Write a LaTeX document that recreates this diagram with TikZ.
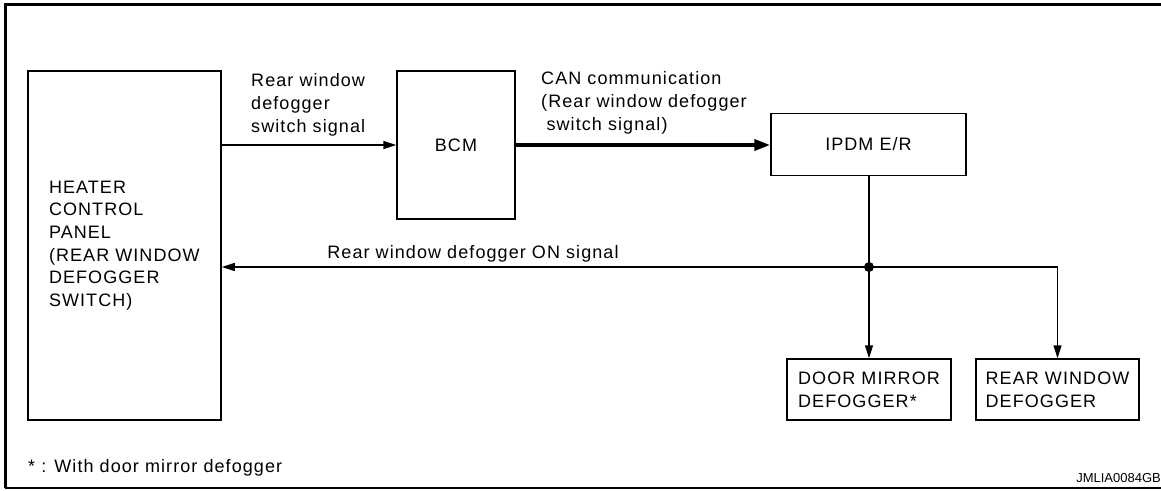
\documentclass[tikz,border=0pt]{standalone}
\usepackage{fontspec}
\setmainfont{Liberation Sans}[LetterSpace=6]
\newfontfamily\plainfont{Liberation Sans}
\usetikzlibrary{arrows.meta,calc}
\begin{document}
\begin{tikzpicture}[x=1pt,y=-1pt,
  font=\fontsize{18}{22.7}\selectfont,
  box/.style={draw=black,line width=1.5pt,inner sep=0pt,align=center},
  lbox/.style={draw=black,line width=1.5pt,inner sep=0pt,align=left},
  lbl/.style={inner sep=0pt,align=left},
  conn/.style={line width=1.5pt},
  arr/.style={line width=1.5pt,-{Triangle[length=13pt,width=8pt]}},
  thickarr/.style={line width=3.8pt,-{Triangle[length=16pt,width=11pt]}},
  frame/.style={line width=3pt}]
\useasboundingbox (0,0) rectangle (1161,490);
% outer frame (no right edge)
\draw[frame] (1161,4) -- (5.5,4) -- (5.5,488);
\draw[line width=2pt] (4.5,488) -- (1161,488);

% boxes
\node[lbox,minimum width=193pt,minimum height=349pt,text width=151pt,inner xsep=21pt] (heater) at (124.5,245.5)
  {HEATER\\CONTROL\\PANEL\\(REAR WINDOW\\DEFOGGER\\SWITCH)};
\node[box,minimum width=118pt,minimum height=148pt] (bcm) at (456,145) {BCM};
\node[box,minimum width=195pt,minimum height=62pt] (ipdm) at (868.5,144.5) {IPDM E/R};
\node[lbox,minimum width=164pt,minimum height=61pt] (door) at (869,389.5)
  {DOOR MIRROR\\DEFOGGER*};
\node[lbox,minimum width=163pt,minimum height=61pt] (rear) at (1057.5,389.5)
  {REAR WINDOW\\DEFOGGER};

\coordinate (j) at (869,267);

% connectors
\draw[arr] (heater.east |- bcm.west) -- (bcm.west);
\draw[thickarr] (bcm.east) -- (bcm.east -| ipdm.west);
\draw[conn] (ipdm.south -| j) -- (j);
\draw[arr] (j) -- (heater.east |- j);
\draw[arr] (j) -- (door.north -| j);
\draw[arr] (j) -| (rear.north);
\fill (j) circle (5pt);

% labels
\node[lbl,anchor=west] (l1) at (251,105) {Rear window\\defogger\\switch signal};
\node[lbl,anchor=west] (l2) at (541,103) {CAN communication\\(Rear window defogger\\\hspace*{0.3em}switch signal)};
\node[lbl] (l3) at (473,254) {Rear window defogger ON signal};
\node[lbl,anchor=west] (note) at (28,468) {* : With door mirror defogger};
\node[inner sep=0pt,anchor=east,font=\plainfont\fontsize{13}{15}\selectfont] (code) at (1161,478) {JMLIA0084GB};
\end{tikzpicture}
\end{document}
